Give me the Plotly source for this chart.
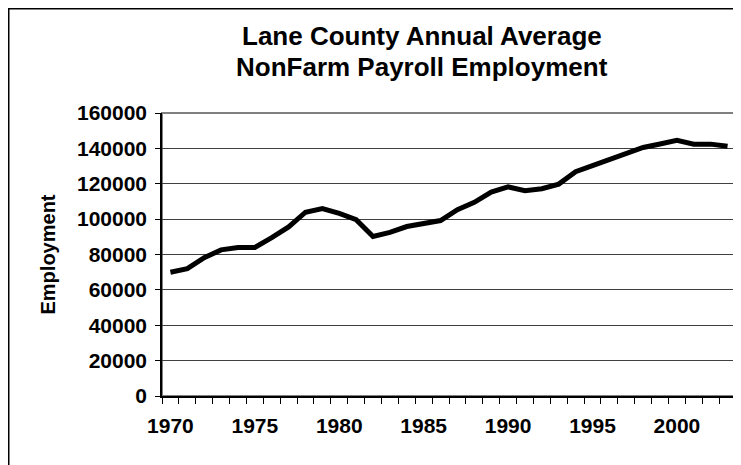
import plotly.graph_objects as go

years = list(range(1970, 2004))
employment = [70000, 72000, 78200, 82600, 84000, 84000, 89500, 95600, 103900, 106000,
              103200, 99700, 90200, 92500, 95800, 97200, 99200, 105300, 109500, 115300,
              118200, 116100, 117200, 119800, 126800, 130200, 133800, 137000, 140500, 142500,
              144500, 142400, 142400, 141200]
y_ticks = [0, 20000, 40000, 60000, 80000, 100000, 120000, 140000, 160000]
x_labels = [1970, 1975, 1980, 1985, 1990, 1995, 2000]
title_lines = ["Lane County Annual Average", "NonFarm Payroll Employment"]
y_title = "Employment"

# page body has an 8px margin, so the figure is laid out 8px up/left
W, H = 733, 457
L, R, T, B = 154, 5, 105, 69
pw, ph = W - L - R, H - T - B

FONT = "Liberation Sans, Arial, sans-serif"


def px_x(px):
    return (px - L) / pw


def px_y(py):
    return (H - B - py) / ph


fig = go.Figure()
fig.add_trace(go.Scatter(x=years, y=employment, mode="lines",
                         line=dict(color="black", width=5), showlegend=False))

# plot area gray border
fig.add_shape(type="rect", xref="paper", yref="paper", x0=0, x1=1, y0=0, y1=1,
              line=dict(color="#808080", width=2), layer="below")
# outer chart border (extends past right and bottom edges)
fig.add_shape(type="rect", xref="paper", yref="paper",
              x0=px_x(0.75), x1=px_x(W + 6), y0=px_y(H + 6), y1=px_y(0.75),
              line=dict(color="black", width=1.5), layer="below")

for txt, cy in zip(title_lines, [28, 59]):
    fig.add_annotation(text="<b>%s</b>" % txt, xref="paper", yref="paper",
                       x=px_x(414), y=px_y(cy), xanchor="center", yanchor="middle",
                       showarrow=False, font=dict(size=26, family=FONT, color="black"))

fig.add_annotation(text="<b>%s</b>" % y_title, xref="paper", yref="paper",
                   x=px_x(39), y=0.5, xanchor="center", yanchor="middle",
                   textangle=-90, showarrow=False,
                   font=dict(size=20, family=FONT, color="black"))

fig.update_layout(
    width=W, height=H,
    margin=dict(l=L, r=R, t=T, b=B),
    paper_bgcolor="white", plot_bgcolor="white",
    font=dict(family=FONT, color="black"),
    xaxis=dict(range=[1969.5, 2003.5], tickmode="array", tickvals=x_labels,
               ticktext=["<b>%d</b>" % v for v in x_labels],
               ticks="", showgrid=False, zeroline=False,
               showline=True, linecolor="black", linewidth=1.5,
               tickfont=dict(size=21, family=FONT, color="black"),
               ticklabelstandoff=10,
               minor=dict(tick0=1969.5, dtick=1, ticks="outside", ticklen=6,
                          tickcolor="black", tickwidth=1, showgrid=False)),
    yaxis=dict(range=[0, 160000], tickmode="array", tickvals=y_ticks,
               ticktext=["<b>%d</b>" % v for v in y_ticks],
               ticks="outside", ticklen=5, tickcolor="black",
               showgrid=True, gridcolor="#404040", gridwidth=1,
               zeroline=False, showline=True, linecolor="black", linewidth=1.5,
               tickfont=dict(size=21, family=FONT, color="black"),
               ticklabelstandoff=4),
)

fig.write_html("out.html")
